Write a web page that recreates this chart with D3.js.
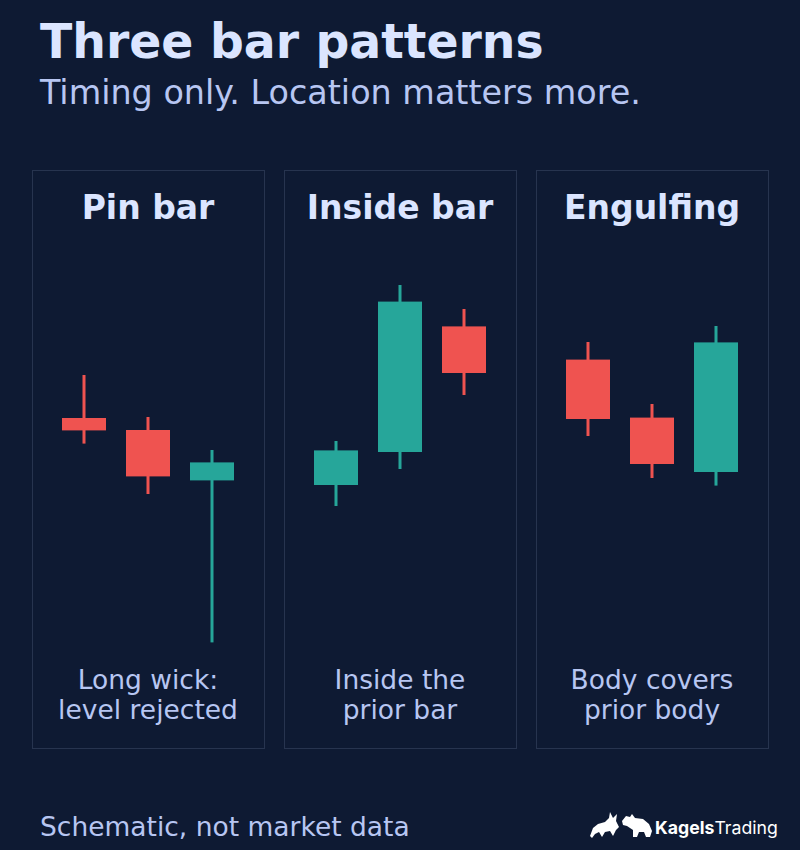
<!DOCTYPE html>
<html>
<head>
<meta charset="utf-8">
<script src="https://cdn.jsdelivr.net/npm/d3@7"></script>
<style>
  html, body { margin: 0; padding: 0; background: #0e1a33; }
  svg { display: block; }
</style>
</head>
<body>
<script>
// ---------- DATA ----------
const patterns = ["Pin bar", "Inside bar", "Engulfing"];
const captions = [
  ["Long wick:", "level rejected"],
  ["Inside the", "prior bar"],
  ["Body covers", "prior body"]
];
// OHLC per panel (schematic price units)
const opens  = [[58.0, 55.0, 42.4], [41.25, 49.5, 80.9], [72.6, 58.1, 44.5]];
const highs  = [[68.75, 58.25, 50.0], [52.25, 91.25, 85.25], [77.0, 61.5, 81.0]];
const lows   = [[51.6, 39.0, 1.9], [36.0, 45.25, 63.75], [53.5, 43.0, 41.1]];
const closes = [[54.9, 43.4, 46.9], [49.9, 87.1, 69.25], [57.75, 46.5, 76.9]];

const titleText = "Three bar patterns";
const subtitleText = "Timing only. Location matters more.";
const footerText = "Schematic, not market data";
const brandBold = "Kagels";
const brandRegular = "Trading";

// ---------- LAYOUT ----------
const W = 800, H = 850;
const BG = "#0e1a33";
const UP = "#26a69a", DOWN = "#ef5350";
const font = "'DejaVu Sans', sans-serif";

const svg = d3.select("body").append("svg").attr("width", W).attr("height", H);
svg.append("rect").attr("width", W).attr("height", H).attr("fill", BG);

svg.append("text").attr("x", 40).attr("y", 58)
  .attr("font-family", font).attr("font-weight", "bold").attr("font-size", 47.3)
  .attr("fill", "#dbe5ff").text(titleText);
svg.append("text").attr("x", 40).attr("y", 104)
  .attr("font-family", font).attr("font-size", 33.4)
  .attr("fill", "#b7c6f2").text(subtitleText);

const panelX = d3.scaleBand().domain(d3.range(patterns.length))
  .range([32, 768]).paddingInner(20 / 252).paddingOuter(0);

const y = d3.scaleLinear().domain([0, 100]).range([650, 250]);
const cx = d3.scalePoint().domain([0, 1, 2]).range([52, 180]);
const bodyW = 44;

patterns.forEach((name, i) => {
  const g = svg.append("g").attr("transform", `translate(${panelX(i)},0)`);
  const pw = panelX.bandwidth();
  g.append("rect").attr("x", 0.5).attr("y", 170.5).attr("width", pw).attr("height", 578)
    .attr("fill", "none").attr("stroke", "#27344f").attr("stroke-width", 1);
  g.append("text").attr("x", pw / 2).attr("y", 219).attr("text-anchor", "middle")
    .attr("font-family", font).attr("font-weight", "bold").attr("font-size", 33)
    .attr("fill", "#dbe5ff").text(name);

  const candles = d3.range(3).map(j => ({
    o: opens[i][j], h: highs[i][j], l: lows[i][j], c: closes[i][j], j
  }));
  const cg = g.selectAll("g.candle").data(candles).join("g").attr("class", "candle");
  cg.append("line")
    .attr("x1", d => cx(d.j)).attr("x2", d => cx(d.j))
    .attr("y1", d => y(d.h)).attr("y2", d => y(d.l))
    .attr("stroke", d => d.c >= d.o ? UP : DOWN).attr("stroke-width", 3);
  cg.append("rect")
    .attr("x", d => cx(d.j) - bodyW / 2).attr("width", bodyW)
    .attr("y", d => y(Math.max(d.o, d.c)))
    .attr("height", d => Math.abs(y(d.o) - y(d.c)))
    .attr("fill", d => d.c >= d.o ? UP : DOWN);

  g.selectAll("text.cap").data(captions[i]).join("text").attr("class", "cap")
    .attr("x", pw / 2).attr("y", (d, k) => 689 + k * 30).attr("text-anchor", "middle")
    .attr("font-family", font).attr("font-size", 26.5).attr("fill", "#b7c6f2").text(d => d);
});

svg.append("text").attr("x", 40).attr("y", 836)
  .attr("font-family", font).attr("font-size", 26.5).attr("fill", "#b7c6f2").text(footerText);

// ---------- LOGO ----------
const logo = svg.append("g");
const bull = [[2,24],[5,16],[10,12],[17,10],[21,6],[22,0],[25,6],[29,2],[28,9],[31,15],[28,18],[25,24],[22,19],[17,20],[14,25],[11,20],[7,22],[4,26]];
const bear = [[1,9],[5,4],[9,5],[11,2],[14,6],[22,7],[28,12],[31,19],[29,25],[25,25],[23,20],[18,20],[16,25],[12,25],[12,18],[6,14],[2,13]];
logo.append("path").attr("d", d3.line()(bull.map(p => [588 + p[0], 812 + p[1]])) + "Z").attr("fill", "#ffffff");
logo.append("path").attr("d", d3.line()(bear.map(p => [621 + p[0], 812 + p[1]])) + "Z").attr("fill", "#ffffff");
const brand = logo.append("text").attr("x", 655).attr("y", 834)
  .attr("font-family", "Inter, sans-serif").attr("font-size", 17.7).attr("fill", "#ffffff");
brand.append("tspan").attr("font-weight", "bold").text(brandBold);
brand.append("tspan").attr("font-weight", "normal").text(brandRegular);
</script>
</body>
</html>
